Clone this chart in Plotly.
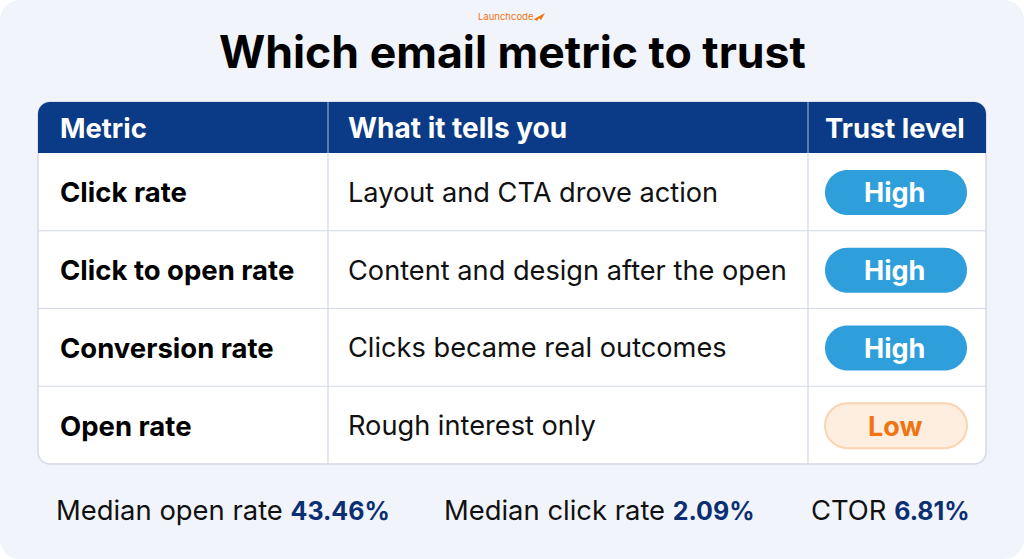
import plotly.graph_objects as go

title = "Which email metric to trust"
brand = "Launchcode"
headers = ["Metric", "What it tells you", "Trust level"]
metrics = ["Click rate", "Click to open rate", "Conversion rate", "Open rate"]
meanings = ["Layout and CTA drove action", "Content and design after the open",
            "Clicks became real outcomes", "Rough interest only"]
trust = ["High", "High", "High", "Low"]
stat_labels = ["Median open rate", "Median click rate", "CTOR"]
stat_values = ["43.46%", "2.09%", "6.81%"]
stat_centers = [223, 599.5, 890]

W, H = 1024, 559
FONT = "Inter"
NAVY = "#0b3a86"
DARK = "#0b2f73"
GRID = "#d3d8e6"
BLUE = "#2f9fdc"
OR = "#f07412"

L, R, T, HB, B = 38, 986, 102, 153, 464
C1, C2 = 328, 808
rows = len(metrics)
RH = (B - HB) / rows
K = 0.5523


def rr(x0, y0, x1, y1, tl=0, tr=0, br=0, bl=0):
    def corner(r, cx, cy, ex, ey):
        # cubic approximation of a quarter circle from the current point to (ex, ey)
        return f"C{cx[0]},{cx[1]} {cy[0]},{cy[1]} {ex},{ey} " if r else ""
    p = f"M{x0+tl},{y0} L{x1-tr},{y0} "
    p += corner(tr, (x1 - tr * (1 - K), y0), (x1, y0 + tr * (1 - K)), x1, y0 + tr)
    p += f"L{x1},{y1-br} "
    p += corner(br, (x1, y1 - br * (1 - K)), (x1 - br * (1 - K), y1), x1 - br, y1)
    p += f"L{x0+bl},{y1} "
    p += corner(bl, (x0 + bl * (1 - K), y1), (x0, y1 - bl * (1 - K)), x0, y1 - bl)
    p += f"L{x0},{y0+tl} "
    p += corner(tl, (x0, y0 + tl * (1 - K)), (x0 + tl * (1 - K), y0), x0 + tl, y0)
    return p + "Z"


def sh(path, fill, line=None, w=0):
    return dict(type="path", path=path, fillcolor=fill, xref="x", yref="y",
                line=dict(color=line or fill, width=w), layer="below")


def seg(x0, y0, x1, y1, color=GRID, w=1.2):
    return dict(type="line", x0=x0, y0=y0, x1=x1, y1=y1, xref="x", yref="y",
                line=dict(color=color, width=w), layer="below")


def txt(x, y, s, size, color="#0a0a0a", anchor="left", bold=False):
    return dict(x=x, y=y, xref="x", yref="y", text=f"<b>{s}</b>" if bold else s,
                showarrow=False, xanchor=anchor, yanchor="middle",
                font=dict(family=FONT, size=size, color=color))


shapes = [
    sh(rr(0, 0, W, H, 20, 20, 20, 20), "#f2f4fb"),
    sh(rr(L, T, R, B, 12, 12, 12, 12), "#ffffff", GRID, 1.4),
    sh(rr(L, T, R, HB, 12, 12, 0, 0), NAVY),
    seg(C1, T, C1, HB, "#8ea6cc"),
    seg(C2, T, C2, HB, "#8ea6cc"),
    seg(C1, HB, C1, B),
    seg(C2, HB, C2, B),
    # small plane mark beside the brand name
    sh("M534,19 L545,13 L541,20 L539,18 L537,21 Z", OR),
]
ann = [
    txt(505.5, 16.5, brand, 9.5, OR, "center"),
    txt(512, 52, title, 44.6, "#000000", "center", True),
    txt(58, 128, headers[0], 27.4, "#ffffff", bold=True),
    txt(346, 128, headers[1], 28, "#ffffff", bold=True),
    txt(895, 128, headers[2], 27.4, "#ffffff", "center", True),
]
PX0, PX1 = 825, 967
PH = 45
for i in range(rows):
    cy = HB + RH * (i + 0.5)
    if i:
        shapes.append(seg(L, HB + RH * i, R, HB + RH * i))
    ann.append(txt(58, cy + 0.5, metrics[i], 27.5, "#000000", bold=True))
    ann.append(txt(346, cy + 0.5, meanings[i], 27.2, "#111111"))
    low = trust[i] == "Low"
    shapes.append(sh(rr(PX0, cy - PH / 2 + 0.5, PX1, cy + PH / 2 + 0.5, *[PH / 2] * 4),
                     "#fdeee0" if low else BLUE, "#fbd3b0" if low else BLUE, 2 if low else 0))
    ann.append(txt((PX0 + PX1) / 2 - 1.5, cy + 1, trust[i], 27, OR if low else "#ffffff", "center", True))
for c, l, v in zip(stat_centers, stat_labels, stat_values):
    ann.append(dict(x=c, y=509.5, xref="x", yref="y", showarrow=False, xanchor="center", yanchor="middle",
                    text=f"{l} <b><span style='color:{DARK};font-size:25px'>{v}</span></b>",
                    font=dict(family=FONT, size=27.4, color="#111111")))

fig = go.Figure()
fig.update_layout(
    width=W, height=H, margin=dict(l=0, r=0, t=0, b=0),
    paper_bgcolor="#ffffff", plot_bgcolor="rgba(0,0,0,0)", showlegend=False,
    xaxis=dict(range=[0, W], visible=False, fixedrange=True),
    yaxis=dict(range=[H, 0], visible=False, fixedrange=True),
    shapes=shapes, annotations=ann,
)
fig.write_html("out.html", config=dict(displayModeBar=False),
               post_script="document.body.style.margin='0';document.body.style.overflow='hidden';")
